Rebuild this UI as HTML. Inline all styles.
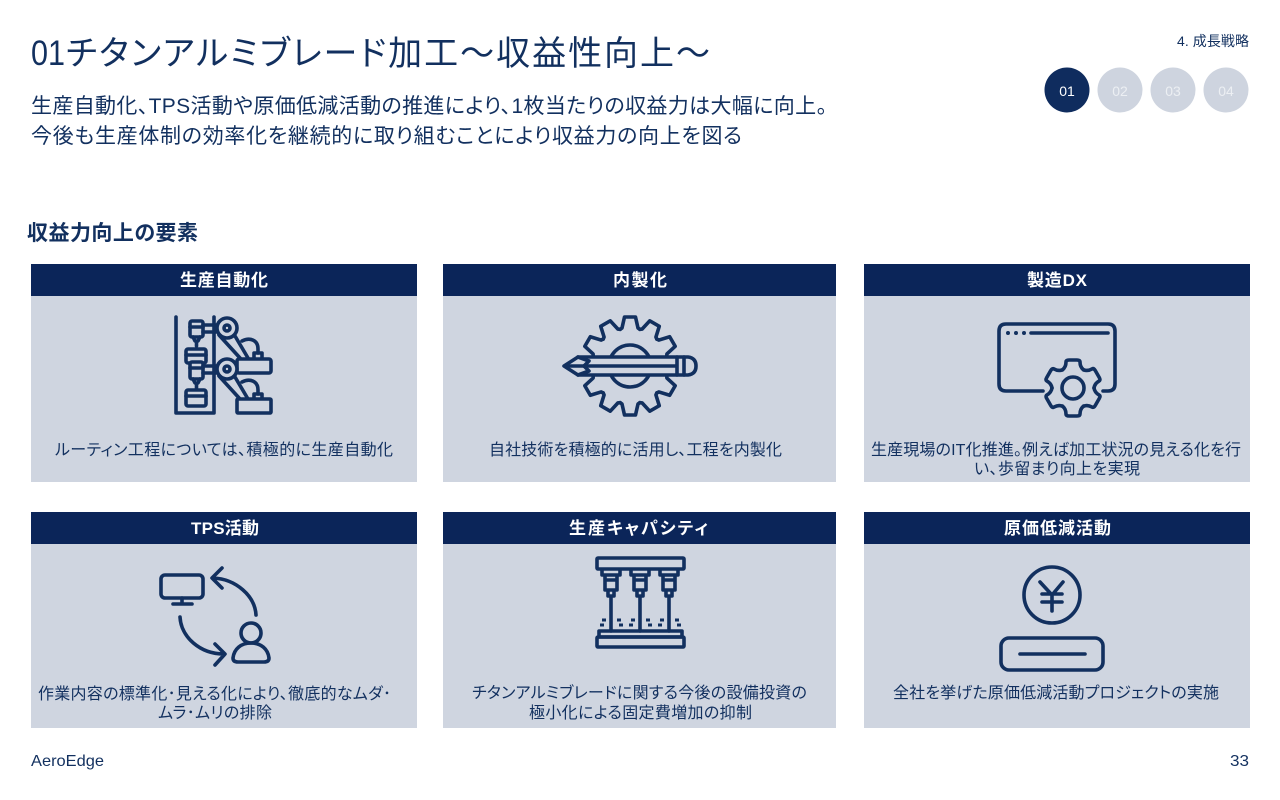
<!DOCTYPE html>
<html lang="ja">
<head>
<meta charset="utf-8">
<title>01チタンアルミブレード加工</title>
<style>
html,body{margin:0;padding:0;background:#fff;width:1280px;height:800px;overflow:hidden}
svg{display:block}
text{font-family:"Liberation Sans","Noto Sans CJK JP",sans-serif;fill:#12305f;font-feature-settings:"palt"}
.h{font-size:17px;font-weight:700;fill:#fff}
.d{font-size:16px}
.i{fill:none;stroke:#12305f;stroke-width:3.6;stroke-linejoin:round;stroke-linecap:round}
.p{fill:#cfd5e0}
.b{fill:#0b2559}
</style>
</head>
<body>
<svg width="1280" height="800" viewBox="0 0 1280 800" xmlns="http://www.w3.org/2000/svg">
<rect width="1280" height="800" fill="#fff"/>

<text x="31" y="65" font-size="35" textLength="34" lengthAdjust="spacingAndGlyphs">01</text>
<text x="66" y="65" font-size="34" textLength="644" lengthAdjust="spacing">チタンアルミブレード加工～収益性向上～</text>
<text x="31" y="113" font-size="21" textLength="796" lengthAdjust="spacing">生産自動化、TPS活動や原価低減活動の推進により、1枚当たりの収益力は大幅に向上。</text>
<text x="31" y="143" font-size="21" textLength="711" lengthAdjust="spacing">今後も生産体制の効率化を継続的に取り組むことにより収益力の向上を図る</text>
<text x="27" y="240" font-size="21" font-weight="700" textLength="171" lengthAdjust="spacing">収益力向上の要素</text>

<text x="1177" y="46" font-size="14" textLength="72" lengthAdjust="spacing">4. 成長戦略</text>
<circle cx="1067" cy="90" r="22.5" fill="#0f2c5e"/>
<circle cx="1120" cy="90" r="22.5" fill="#ced4df"/>
<circle cx="1173" cy="90" r="22.5" fill="#ced4df"/>
<circle cx="1226" cy="90" r="22.5" fill="#ced4df"/>
<text x="1067" y="96" font-size="14" text-anchor="middle" style="fill:#fff">01</text>
<text x="1120" y="96" font-size="14" text-anchor="middle" style="fill:#eceff3">02</text>
<text x="1173" y="96" font-size="14" text-anchor="middle" style="fill:#eceff3">03</text>
<text x="1226" y="96" font-size="14" text-anchor="middle" style="fill:#eceff3">04</text>

<!-- panels -->
<rect class="p" x="31" y="264" width="386" height="218"/><rect class="b" x="31" y="264" width="386" height="32"/>
<rect class="p" x="443" y="264" width="393" height="218"/><rect class="b" x="443" y="264" width="393" height="32"/>
<rect class="p" x="864" y="264" width="386" height="218"/><rect class="b" x="864" y="264" width="386" height="32"/>
<rect class="p" x="31" y="512" width="386" height="216"/><rect class="b" x="31" y="512" width="386" height="32"/>
<rect class="p" x="443" y="512" width="393" height="216"/><rect class="b" x="443" y="512" width="393" height="32"/>
<rect class="p" x="864" y="512" width="386" height="216"/><rect class="b" x="864" y="512" width="386" height="32"/>

<text class="h" x="180" y="286" textLength="88" lengthAdjust="spacing">生産自動化</text>
<text class="h" x="613" y="286" textLength="54" lengthAdjust="spacing">内製化</text>
<text class="h" x="1027" y="286" textLength="60" lengthAdjust="spacing">製造DX</text>
<text class="h" x="191" y="534" textLength="68" lengthAdjust="spacing">TPS活動</text>
<text class="h" x="569" y="534" textLength="139" lengthAdjust="spacing">生産キャパシティ</text>
<text class="h" x="1004" y="534" textLength="107" lengthAdjust="spacing">原価低減活動</text>

<text class="d" x="55" y="455" textLength="338" lengthAdjust="spacing">ルーティン工程については、積極的に生産自動化</text>
<text class="d" x="489" y="455" textLength="293" lengthAdjust="spacing">自社技術を積極的に活用し、工程を内製化</text>
<text class="d" x="871" y="455" textLength="370" lengthAdjust="spacing">生産現場のIT化推進。例えば加工状況の見える化を行</text>
<text class="d" x="974" y="474" textLength="166" lengthAdjust="spacing">い、歩留まり向上を実現</text>
<text class="d" x="38" y="699" textLength="353" lengthAdjust="spacing">作業内容の標準化･見える化により、徹底的なムダ･</text>
<text class="d" x="158" y="718" textLength="114" lengthAdjust="spacing">ムラ･ムリの排除</text>
<text class="d" x="472" y="698" textLength="335" lengthAdjust="spacing">チタンアルミブレードに関する今後の設備投資の</text>
<text class="d" x="529" y="718" textLength="223" lengthAdjust="spacing">極小化による固定費増加の抑制</text>
<text class="d" x="893" y="698" textLength="326" lengthAdjust="spacing">全社を挙げた原価低減活動プロジェクトの実施</text>

<text x="31" y="766" font-size="16" textLength="73" lengthAdjust="spacingAndGlyphs">AeroEdge</text>
<text x="1230" y="766" font-size="16" textLength="19" lengthAdjust="spacingAndGlyphs">33</text>

<!-- robot arms -->
<g class="i">
<path d="M176 317V413H214V317"/>
<rect x="190" y="321" width="13" height="16" rx="2" fill="#cfd5e0"/>
<path d="M190 327H203M193 337L195 341H198L200 337M196.500 341V346"/>
<path d="M203 325H216M203 332H216"/>
<circle cx="227" cy="328" r="10" fill="#cfd5e0"/>
<circle cx="227" cy="328" r="3"/>
<path d="M219 335L240 358M235 336L248 358"/>
<path d="M242 341C250 337 258 340 258 349V353"/>
<path d="M254 358V353H262V358"/>
<rect x="186" y="349" width="20" height="14" rx="2"/>
<path d="M186 355H206"/>
<rect x="237" y="359" width="34" height="14" rx="2" fill="#cfd5e0"/>
<rect x="190" y="362" width="13" height="17" rx="2" fill="#cfd5e0"/>
<path d="M190 368H203M193 379L195 383H198L200 379M196.500 383V389"/>
<path d="M203 366H216M203 373H216"/>
<circle cx="227" cy="369" r="10" fill="#cfd5e0"/>
<circle cx="227" cy="369" r="3"/>
<path d="M219 376L240 399M235 377L248 399"/>
<path d="M242 382C250 378 258 381 258 390V394"/>
<path d="M254 399V394H262V399"/>
<rect x="186" y="390" width="20" height="16" rx="2"/>
<path d="M186 396H206"/>
<rect x="237" y="399" width="34" height="14" rx="1" fill="#cfd5e0"/>
</g>

<!-- gear and pencil -->
<g class="i" transform="translate(630 366)">
<path d="M-9.800 -36.700L-8 -38L-5.500 -49H5.500L8 -38L9.800 -36.700"/>
<path transform="rotate(30)" d="M-9.800 -36.700L-8 -38L-5.500 -49H5.500L8 -38L9.800 -36.700"/>
<path transform="rotate(60)" d="M-9.800 -36.700L-8 -38L-5.500 -49H5.500L8 -38L9.800 -36.700"/>
<path transform="rotate(90)" d="M-9.800 -36.700L-8 -38L-5.500 -49H5.500L8 -38L9.800 -36.700"/>
<path transform="rotate(120)" d="M-9.800 -36.700L-8 -38L-5.500 -49H5.500L8 -38L9.800 -36.700"/>
<path transform="rotate(150)" d="M-9.800 -36.700L-8 -38L-5.500 -49H5.500L8 -38L9.800 -36.700"/>
<path transform="rotate(180)" d="M-9.800 -36.700L-8 -38L-5.500 -49H5.500L8 -38L9.800 -36.700"/>
<path transform="rotate(210)" d="M-9.800 -36.700L-8 -38L-5.500 -49H5.500L8 -38L9.800 -36.700"/>
<path transform="rotate(240)" d="M-9.800 -36.700L-8 -38L-5.500 -49H5.500L8 -38L9.800 -36.700"/>
<path transform="rotate(270)" d="M-9.800 -36.700L-8 -38L-5.500 -49H5.500L8 -38L9.800 -36.700"/>
<path transform="rotate(300)" d="M-9.800 -36.700L-8 -38L-5.500 -49H5.500L8 -38L9.800 -36.700"/>
<path transform="rotate(330)" d="M-9.800 -36.700L-8 -38L-5.500 -49H5.500L8 -38L9.800 -36.700"/>
<circle r="21"/>
</g>
<g class="i">
<path d="M564 366L578 357H688Q696 358 696 366Q696 374 688 375H578Z" fill="#cfd5e0"/>
<path d="M578 357L589 361L584 366L589 371L578 375"/>
<path d="M584 366H677M677 357V375M684 357V375"/>
<path d="M566 366H584" />
</g>

<!-- window + gear -->
<g class="i">
<path d="M1043 391H1006Q999 391 999 384V331Q999 324 1006 324H1108Q1115 324 1115 331V384Q1115 391 1108 391H1103"/>
<path d="M1031 333H1108"/>
<g transform="translate(1073 388)">
<path d="M-10.500 -18.200Q-7 -21 -7 -26Q-7 -28 -4 -28H4Q7 -28 7 -26Q7 -21 10.500 -18.200"/>
<path transform="rotate(60)" d="M-10.500 -18.200Q-7 -21 -7 -26Q-7 -28 -4 -28H4Q7 -28 7 -26Q7 -21 10.500 -18.200"/>
<path transform="rotate(120)" d="M-10.500 -18.200Q-7 -21 -7 -26Q-7 -28 -4 -28H4Q7 -28 7 -26Q7 -21 10.500 -18.200"/>
<path transform="rotate(180)" d="M-10.500 -18.200Q-7 -21 -7 -26Q-7 -28 -4 -28H4Q7 -28 7 -26Q7 -21 10.500 -18.200"/>
<path transform="rotate(240)" d="M-10.500 -18.200Q-7 -21 -7 -26Q-7 -28 -4 -28H4Q7 -28 7 -26Q7 -21 10.500 -18.200"/>
<path transform="rotate(300)" d="M-10.500 -18.200Q-7 -21 -7 -26Q-7 -28 -4 -28H4Q7 -28 7 -26Q7 -21 10.500 -18.200"/>
<circle r="11"/>
</g>
</g>
<circle cx="1008" cy="333" r="2" fill="#12305f"/>
<circle cx="1016" cy="333" r="2" fill="#12305f"/>
<circle cx="1024" cy="333" r="2" fill="#12305f"/>

<!-- TPS cycle -->
<g class="i">
<rect x="161" y="575" width="42" height="23" rx="4"/>
<path d="M182 598V604M173 604H192"/>
<path d="M256 615C255 596 236 579 213 578M222 568L212 578L222 588"/>
<path d="M180 617C181 637 200 654 224 654M215 644L225 654L215 665"/>
<circle cx="251" cy="633" r="10"/>
<path d="M238 662H264Q269 662 269 658C268 649 261 643 251 643C241 643 234 649 233 658Q233 662 238 662Z"/>
</g>

<!-- machine -->
<g class="i">
<rect x="597" y="558" width="87" height="11" rx="1"/>
<path d="M602 570V575H620V570M605 575V590H617V575M605 580H617M608 590V596H614V590M611 596V631"/>
<path d="M631 570V575H649V570M634 575V590H646V575M634 580H646M637 590V596H643V590M640 596V631"/>
<path d="M660 570V575H678V570M663 575V590H675V575M663 580H675M666 590V596H672V590M669 596V631"/>
<rect x="599" y="631" width="83" height="6"/>
<rect x="597" y="637" width="87" height="10" rx="1"/>
</g>
<g fill="none" stroke="#12305f" stroke-width="3">
<path d="M602 620h4M600 625h4M617 620h4M619 625h4M631 620h4M629 625h4M646 620h4M648 625h4M660 620h4M658 625h4M675 620h4M677 625h4"/>
</g>

<!-- yen -->
<g class="i">
<circle cx="1052" cy="595" r="28"/>
<path d="M1040 582L1052 595L1063 582M1052 595V611M1042 594H1062M1042 602H1062"/>
<rect x="1001" y="638" width="102" height="32" rx="8"/>
<path d="M1020 654H1085"/>
</g>
</svg>
</body>
</html>
